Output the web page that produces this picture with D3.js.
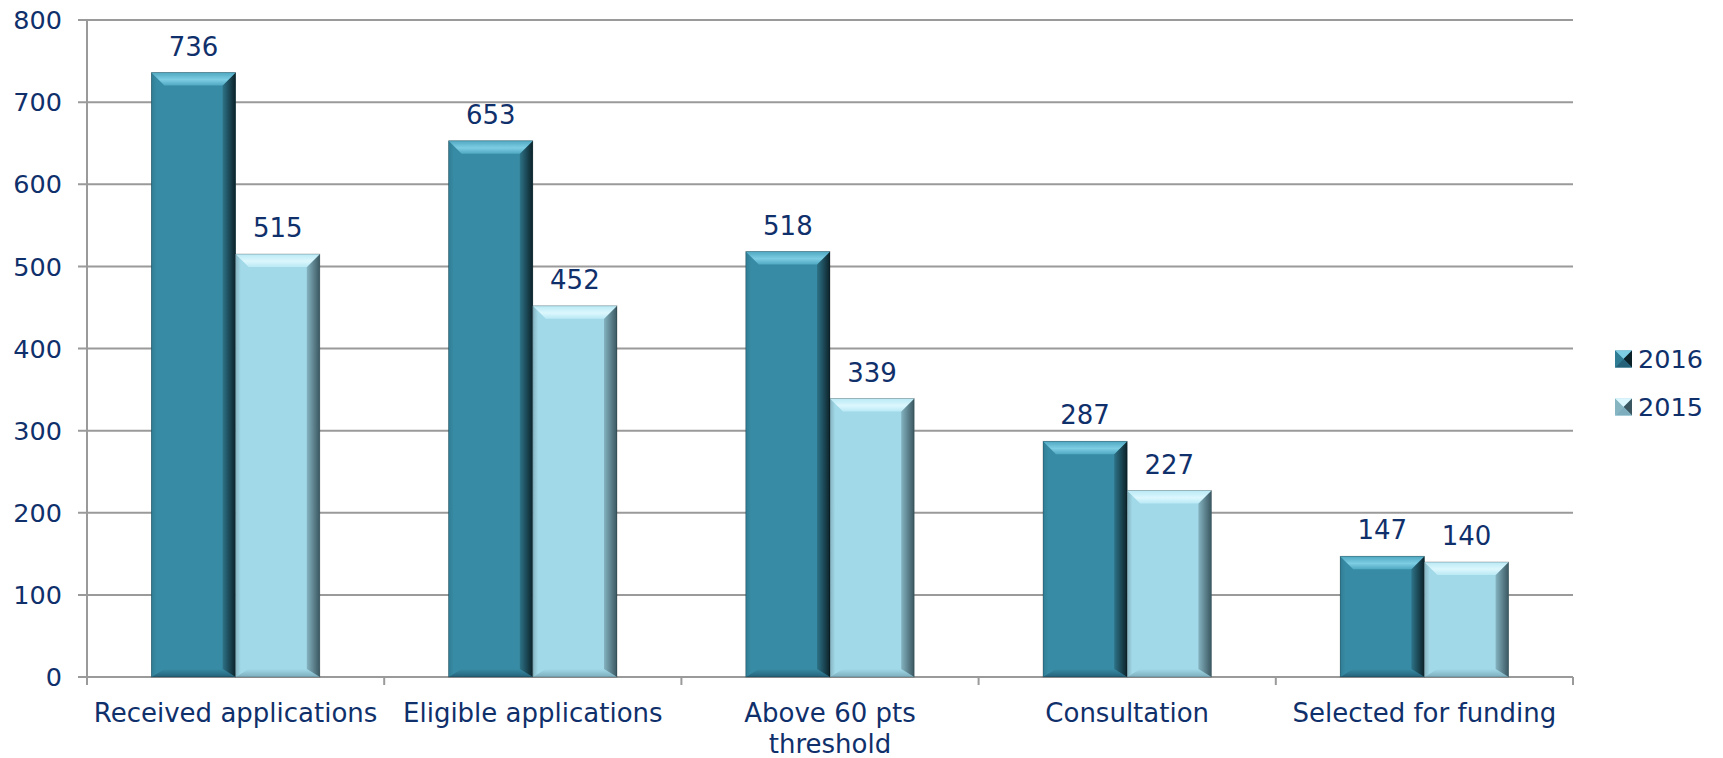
<!DOCTYPE html>
<html><head><meta charset="utf-8">
<script src="https://cdn.jsdelivr.net/npm/d3@7/dist/d3.min.js"></script>
<style>body{margin:0;background:#fff}svg{display:block}</style>
</head><body>
<svg id="c" width="1723" height="758"></svg>
<script>
const categories = [["Received applications"],["Eligible applications"],["Above 60 pts","threshold"],["Consultation"],["Selected for funding"]];
const seriesNames = ["2016","2015"];
const values2016 = [736,653,518,287,147];
const values2015 = [515,452,339,227,140];
const yTicks = [0,100,200,300,400,500,600,700,800];

const svg = d3.select("#c");
const font = "'DejaVu Sans', Verdana, sans-serif";
const txt = "#10306b";
const L = 87, R = 1573, T = 20, B = 677;
const keys = categories.map((c,i)=>i);
const x0 = d3.scaleBand().domain(keys).range([L,R]).padding(0);
const x1 = d3.scaleBand().domain(seriesNames).range([0,x0.bandwidth()]).paddingInner(0).paddingOuter(0.765);
const y = d3.scaleLinear().domain([0,800]).range([B,T]);

const defs = svg.append("defs");
const pal = {
  "2016": {main:"#388ba4", top:"#4fa8c1", topHi:"#7dcde3", left:"#2f7d95", right1:"#2d7388", right2:"#0c2229", bottom:"#25627a"},
  "2015": {main:"#a1d9e8", top:"#b9e9f5", topHi:"#dcf7fd", left:"#86b4c1", right1:"#84b3c0", right2:"#3a5761", bottom:"#7eaebd"}
};
seriesNames.forEach(s=>{
  const p = pal[s];
  const g = defs.append("linearGradient").attr("id","r"+s).attr("x1",0).attr("x2",1).attr("y1",0).attr("y2",0);
  g.append("stop").attr("offset","0%").attr("stop-color",p.right1);
  g.append("stop").attr("offset","100%").attr("stop-color",p.right2);
  const t = defs.append("linearGradient").attr("id","t"+s).attr("x1",0).attr("x2",0).attr("y1",0).attr("y2",1);
  t.append("stop").attr("offset","0%").attr("stop-color",p.top);
  t.append("stop").attr("offset","55%").attr("stop-color",p.topHi);
  t.append("stop").attr("offset","100%").attr("stop-color",p.top);
  const l = defs.append("linearGradient").attr("id","l"+s).attr("x1",0).attr("x2",1).attr("y1",0).attr("y2",0);
  l.append("stop").attr("offset","0%").attr("stop-color",p.left);
  l.append("stop").attr("offset","40%").attr("stop-color",p.main);
  l.append("stop").attr("offset","100%").attr("stop-color",p.main);
  const b = defs.append("linearGradient").attr("id","b"+s).attr("x1",0).attr("x2",0).attr("y1",0).attr("y2",1);
  b.append("stop").attr("offset","0%").attr("stop-color",p.main);
  b.append("stop").attr("offset","100%").attr("stop-color",p.bottom);
});

// gridlines
svg.append("g").selectAll("line").data(yTicks).join("line")
  .attr("x1",L-9).attr("x2",R).attr("y1",d=>y(d)).attr("y2",d=>y(d))
  .attr("stroke","#9a9a9a").attr("stroke-width",2);
// y axis line
svg.append("line").attr("x1",L).attr("x2",L).attr("y1",T).attr("y2",B+8).attr("stroke","#9a9a9a").attr("stroke-width",2);
// category ticks
const bounds = keys.map(k=>x0(k)+x0.bandwidth());
svg.append("g").selectAll("line").data(bounds).join("line")
  .attr("x1",d=>d).attr("x2",d=>d).attr("y1",B).attr("y2",B+8)
  .attr("stroke","#9a9a9a").attr("stroke-width",2);

// y labels
svg.append("g").selectAll("text").data(yTicks).join("text")
  .attr("x",62).attr("y",d=>y(d)).attr("dy","0.36em").attr("text-anchor","end")
  .attr("font-family",font).attr("font-size",25.5).attr("fill",txt).text(d=>d);

// bars
const data = [];
keys.forEach(i=>{
  data.push({i, s:"2016", v:values2016[i]});
  data.push({i, s:"2015", v:values2015[i]});
});
const bev = 13, bevB = 8;
const bars = svg.append("g").selectAll("g").data(data).join("g");
bars.each(function(d){
  const g = d3.select(this);
  const x = x0(d.i)+x1(d.s), w = x1.bandwidth(), yt = y(d.v), yb = y(0);
  const p = pal[d.s];
  const pts = a=>a.map(q=>q.join(",")).join(" ");
  g.append("rect").attr("x",x).attr("y",yt).attr("width",w).attr("height",yb-yt).attr("fill",p.main);
  // left
  g.append("polygon").attr("points",pts([[x,yt],[x+bev,yt+bev],[x+bev,yb-bevB],[x,yb]])).attr("fill","url(#l"+d.s+")");
  // bottom
  g.append("polygon").attr("points",pts([[x,yb],[x+bev,yb-bevB],[x+w-bev,yb-bevB],[x+w,yb]])).attr("fill","url(#b"+d.s+")");
  // right
  g.append("polygon").attr("points",pts([[x+w,yt],[x+w-bev,yt+bev],[x+w-bev,yb-bevB],[x+w,yb]])).attr("fill","url(#r"+d.s+")");
  // top
  g.append("polygon").attr("points",pts([[x,yt],[x+w,yt],[x+w-bev,yt+bev],[x+bev,yt+bev]])).attr("fill","url(#t"+d.s+")");
  g.append("rect").attr("x",x).attr("y",yt).attr("width",w).attr("height",yb-yt).attr("fill","none").attr("stroke","rgba(0,0,0,0.3)").attr("stroke-width",0.8);
  g.append("text").attr("x",x+w/2).attr("y",yt-17).attr("text-anchor","middle")
    .attr("font-family",font).attr("font-size",26).attr("fill",txt).text(d.v);
});

// x labels
const xl = svg.append("g").selectAll("text").data(keys).join("text")
  .attr("x",d=>x0(d)+x0.bandwidth()/2).attr("y",722).attr("text-anchor","middle")
  .attr("font-family",font).attr("font-size",26).attr("fill",txt);
xl.each(function(d){
  const t = d3.select(this);
  categories[d].forEach((line,j)=>{
    t.append("tspan").attr("x",x0(d)+x0.bandwidth()/2).attr("dy",j===0?0:31).text(line);
  });
});

// legend
const leg = svg.append("g").selectAll("g").data(seriesNames).join("g")
  .attr("transform",(d,i)=>`translate(1615,${359+i*48})`);
leg.each(function(s){
  const g = d3.select(this), p = pal[s], z = 17, h = z/2;
  g.append("rect").attr("x",0).attr("y",-h).attr("width",z).attr("height",z).attr("fill",p.main);
  g.append("polygon").attr("points",`0,${-h} ${z},${-h} ${h},0`).attr("fill",p.topHi);
  g.append("polygon").attr("points",`${z},${-h} ${z},${h} ${h},0`).attr("fill",p.right2);
  g.append("polygon").attr("points",`0,${h} ${z},${h} ${h},0`).attr("fill",p.bottom);
  g.append("polygon").attr("points",`0,${-h} 0,${h} ${h},0`).attr("fill",p.left);
  g.append("text").attr("x",23).attr("y",0).attr("dy","0.36em")
    .attr("font-family",font).attr("font-size",25.5).attr("fill",txt).text(s);
});
</script>
</body></html>
